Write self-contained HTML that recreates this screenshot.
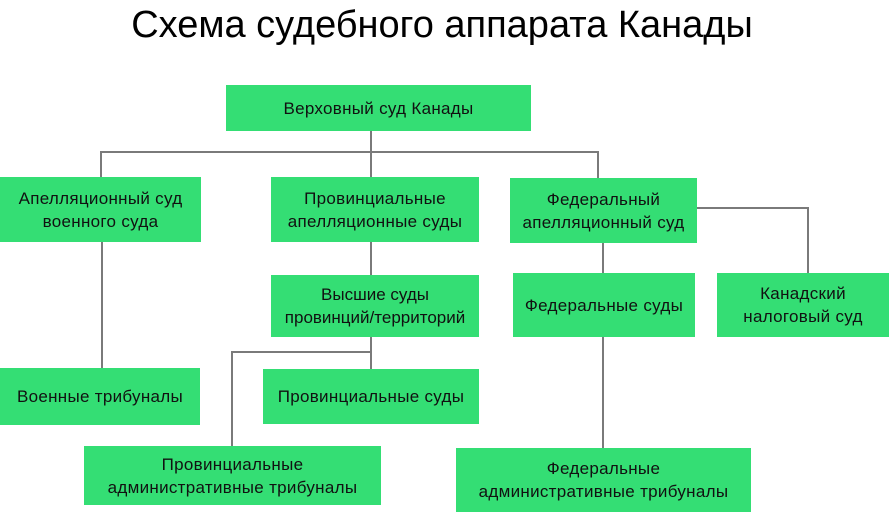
<!DOCTYPE html>
<html><head><meta charset="utf-8"><style>
body{margin:0;width:889px;height:512px;background:#fff;position:relative;overflow:hidden;font-family:"Liberation Sans",Arial,sans-serif}
.t{position:absolute;left:0;width:884px;top:5px;text-align:center;font-size:38px;line-height:40px;color:#000}
.b{position:absolute;background:#34de74;display:flex;align-items:center;justify-content:center;text-align:center;font-size:17px;line-height:23px;color:#111;letter-spacing:0.3px}
.l{position:absolute;background:#7a7a7a}
</style></head><body>
<div class="t">Схема судебного аппарата Канады</div>
<div class="l" style="left:370px;top:131px;width:2px;height:46px"></div>
<div class="l" style="left:100px;top:151px;width:499px;height:2px"></div>
<div class="l" style="left:100px;top:151px;width:2px;height:26px"></div>
<div class="l" style="left:597px;top:151px;width:2px;height:27px"></div>
<div class="l" style="left:101px;top:242px;width:2px;height:126px"></div>
<div class="l" style="left:370px;top:242px;width:2px;height:33px"></div>
<div class="l" style="left:370px;top:337px;width:2px;height:32px"></div>
<div class="l" style="left:232px;top:351px;width:140px;height:2px"></div>
<div class="l" style="left:231px;top:351px;width:2px;height:95px"></div>
<div class="l" style="left:602px;top:243px;width:2px;height:30px"></div>
<div class="l" style="left:602px;top:337px;width:2px;height:111px"></div>
<div class="l" style="left:696px;top:207px;width:113px;height:2px"></div>
<div class="l" style="left:807px;top:207px;width:2px;height:66px"></div>
<div class="b" style="left:226px;top:85px;width:305px;height:46px">Верховный суд Канады</div>
<div class="b" style="left:0;top:177px;width:201px;height:65px">Апелляционный суд<br>военного суда</div>
<div class="b" style="left:271px;top:177px;width:208px;height:65px">Провинциальные<br>апелляционные суды</div>
<div class="b" style="left:510px;top:178px;width:187px;height:65px">Федеральный<br>апелляционный суд</div>
<div class="b" style="left:271px;top:275px;width:208px;height:62px;letter-spacing:0">Высшие суды<br>провинций/территорий</div>
<div class="b" style="left:513px;top:273px;width:182px;height:64px">Федеральные суды</div>
<div class="b" style="left:717px;top:273px;width:172px;height:64px">Канадский<br>налоговый суд</div>
<div class="b" style="left:0;top:368px;width:200px;height:57px">Военные трибуналы</div>
<div class="b" style="left:263px;top:369px;width:216px;height:55px">Провинциальные суды</div>
<div class="b" style="left:84px;top:446px;width:297px;height:59px">Провинциальные<br>административные трибуналы</div>
<div class="b" style="left:456px;top:448px;width:295px;height:64px">Федеральные<br>административные трибуналы</div>
</body></html>
